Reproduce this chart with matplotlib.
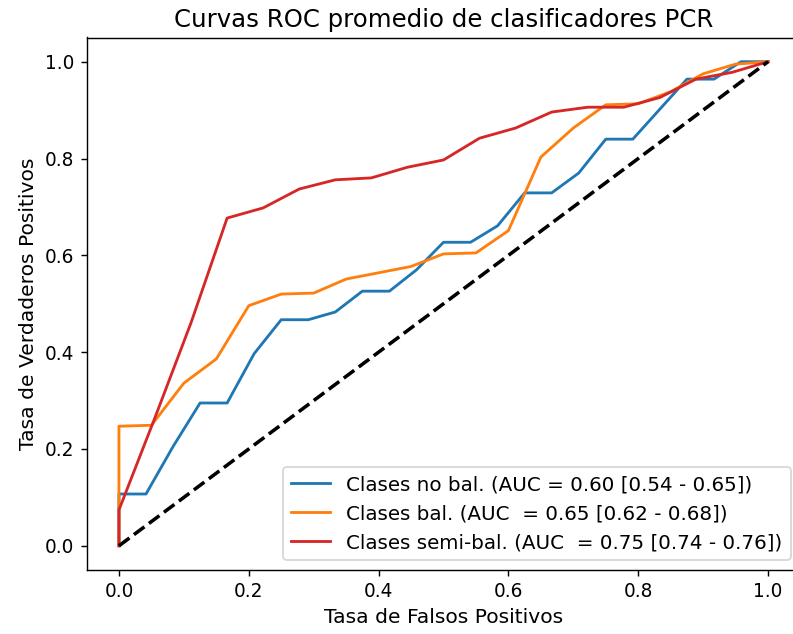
import numpy as np
import matplotlib
matplotlib.use("Agg")
import matplotlib.pyplot as plt

# tpr values, each curve on its own fpr grid
fpr_nobal = [0] + list(np.arange(25) / 24.)
tpr_nobal = [0, 0.107, 0.107, 0.205, 0.295, 0.295, 0.397, 0.467, 0.467, 0.483,
             0.526, 0.526, 0.570, 0.627, 0.627, 0.661, 0.729, 0.729, 0.770,
             0.840, 0.840, 0.902, 0.964, 0.964, 1.0, 1.0]

fpr_bal = [0] + list(np.arange(21) / 20.)
tpr_bal = [0, 0.247, 0.249, 0.336, 0.386, 0.496, 0.520, 0.522, 0.551, 0.564,
           0.577, 0.603, 0.605, 0.651, 0.803, 0.863, 0.911, 0.913, 0.938,
           0.975, 0.995, 1.0]

fpr_semi = [0] + list(np.arange(19) / 18.)
tpr_semi = [0, 0.074, 0.265, 0.461, 0.677, 0.698, 0.737, 0.756, 0.760, 0.782,
            0.797, 0.842, 0.863, 0.896, 0.906, 0.906, 0.926, 0.964, 0.978, 1.0]

labels = ['Clases no bal. (AUC = 0.60 [0.54 - 0.65])',
          'Clases bal. (AUC  = 0.65 [0.62 - 0.68])',
          'Clases semi-bal. (AUC  = 0.75 [0.74 - 0.76])']

dpi = 127
fig = plt.figure(figsize=(793 / dpi, 634 / dpi), dpi=dpi)
ax = fig.add_axes([86.5 / 793, 64 / 634, 714 / 793, 532.5 / 634])

ax.plot(fpr_nobal, tpr_nobal, color='tab:blue', lw=1.6, label=labels[0])
ax.plot(fpr_bal, tpr_bal, color='tab:orange', lw=1.6, label=labels[1])
ax.plot(fpr_semi, tpr_semi, color='tab:red', lw=1.6, label=labels[2])
ax.plot([0, 1], [0, 1], 'k--', lw=2)

ax.set_xlim(-0.05, 1.05)
ax.set_ylim(-0.05, 1.05)
ax.tick_params(labelsize=10.5)
ax.set_xlabel('Tasa de Falsos Positivos', fontsize=11.5)
ax.set_ylabel('Tasa de Verdaderos Positivos', fontsize=11.5)
ax.set_title('Curvas ROC promedio de clasificadores PCR', fontsize=13.8)
ax.legend(loc='lower right', fontsize=11.3)

fig.savefig('out.png', dpi=dpi)
